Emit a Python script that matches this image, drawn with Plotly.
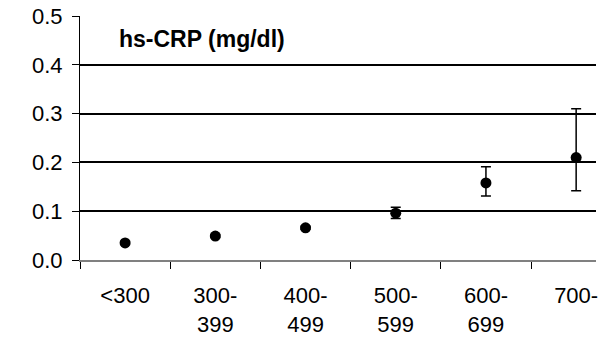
import plotly.graph_objects as go

# hs-CRP means by group, with asymmetric error bars
categories = ["<300", "300-<br>399", "400-<br>499", "500-<br>599", "600-<br>699", "700-"]
crp_mean = [0.035, 0.049, 0.066, 0.096, 0.158, 0.210]
err_plus = [0.003, 0.003, 0.003, 0.012, 0.033, 0.100]
err_minus = [0.003, 0.003, 0.003, 0.011, 0.027, 0.068]
y_ticks = [0.0, 0.1, 0.2, 0.3, 0.4, 0.5]

FONT = "Liberation Sans, Arial, sans-serif"

fig = go.Figure()
fig.add_trace(go.Scatter(
    x=categories,
    y=crp_mean,
    mode="markers",
    marker=dict(color="black", size=11),
    error_y=dict(
        type="data",
        symmetric=False,
        array=err_plus,
        arrayminus=err_minus,
        color="black",
        thickness=1.5,
        width=5,
    ),
    showlegend=False,
    cliponaxis=False,
))

fig.add_annotation(
    text="<b>hs-CRP (mg/dl)</b>",
    xref="paper", yref="paper",
    x=0.072, y=0.905,
    xanchor="left", yanchor="middle",
    showarrow=False,
    font=dict(family=FONT, size=23, color="black"),
)

fig.update_layout(
    width=598, height=339,
    margin=dict(l=80, r=0, t=16, b=79),
    paper_bgcolor="white",
    plot_bgcolor="white",
    font=dict(family=FONT, size=22, color="black"),
)

fig.update_xaxes(
    type="category",
    categoryorder="array",
    categoryarray=categories,
    range=[-0.5, 5.22],
    showgrid=False,
    zeroline=False,
    showline=True,
    linecolor="#808080",
    linewidth=2,
    ticks="outside",
    tickson="boundaries",
    ticklen=7,
    tickwidth=1,
    tickcolor="black",
    ticklabelstandoff=15,
    tickfont=dict(family=FONT, size=22, color="black"),
)

fig.update_yaxes(
    range=[0, 0.5],
    tickvals=y_ticks,
    ticktext=[f"{v:.1f}" for v in y_ticks],
    showgrid=True,
    gridcolor="black",
    gridwidth=1.5,
    zeroline=False,
    showline=True,
    linecolor="black",
    linewidth=1,
    ticks="outside",
    ticklen=7,
    tickwidth=1,
    tickcolor="black",
    ticklabelstandoff=5,
    tickfont=dict(family=FONT, size=22, color="black"),
)

fig.write_html("out.html")
